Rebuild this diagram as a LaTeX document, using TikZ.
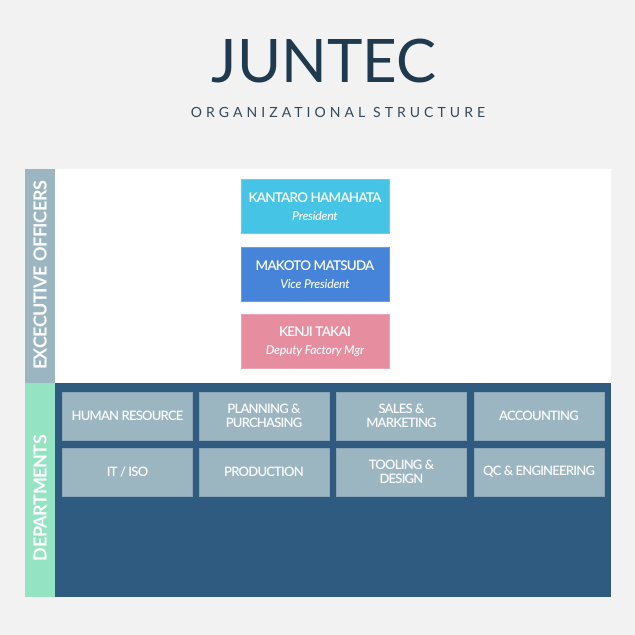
\documentclass[tikz,border=0pt]{standalone}
\usepackage{fontspec}
\setmainfont{Lato}
\newfontfamily\titlefont{Lato}
\newfontfamily\subfont{Lato}[LetterSpace=29]
\newfontfamily\boxfont{Lato Semibold}[LetterSpace=-6]
\newfontfamily\namefont{Lato Semibold}[LetterSpace=-5.5]
\newfontfamily\rolefont{Lato Medium Italic}[LetterSpace=-2]
\newfontfamily\stripfont{Lato}[LetterSpace=-2.5]
\definecolor{bggray}{HTML}{F2F2F2}
\definecolor{navy}{HTML}{1F3A4F}
\definecolor{subnavy}{HTML}{34495E}
\definecolor{steel}{HTML}{9BB5C1}
\definecolor{deptdark}{HTML}{305B80}
\definecolor{mint}{HTML}{94E3C3}
\definecolor{presblue}{HTML}{45C4E5}
\definecolor{vpblue}{HTML}{4584D8}
\definecolor{dfpink}{HTML}{E68EA0}
\tikzset{
  execbox/.style={rectangle, minimum width=148pt, minimum height=54pt, inner sep=0pt, align=center, text=white, font=\namefont\fontsize{13.4}{18}\selectfont},
  deptbox/.style={rectangle, fill=steel, draw=steel!85!deptdark, line width=0.6pt, minimum width=130pt, minimum height=48pt, inner sep=0pt, align=center, text=white!95!steel, font=\boxfont\fontsize{13}{14.5}\selectfont},
  striplabel/.style={rotate=90, text=white, font=\stripfont\bfseries\fontsize{18}{20}\selectfont, inner sep=0pt},
}
\newcommand{\roletext}[1]{{\rolefont\fontsize{12.2}{18}\selectfont #1}}
\begin{document}
\begin{tikzpicture}[x=1pt,y=-1pt]
\useasboundingbox (0,0) rectangle (635,635);
\fill[bggray] (0,0) rectangle (635,635);
% title
\node[anchor=base, text=navy, font=\titlefont\fontsize{60}{62}\selectfont, inner sep=0pt] (title) at (324,82) {JUNTEC};
\node[anchor=base, text=subnavy, font=\subfont\fontsize{14}{16}\selectfont, inner sep=0pt] (subtitle) at (338,117) {ORGANIZATIONAL STRUCTURE};
% panels
\fill[white] (55,169) rectangle (611,383);
\fill[steel] (25,169) rectangle (55,383);
\fill[deptdark] (55,383) rectangle (611,597);
\fill[mint] (25,383) rectangle (55,597);
\node[striplabel] (execlabel) at (40,275.5) {EXCECUTIVE OFFICERS};
\node[striplabel] (deptlabel) at (40,498) {DEPARTMENTS};
% executives
\node[execbox, fill=presblue, draw=presblue!80!white] (pres) at (315,206.5) {KANTARO HAMAHATA\\\roletext{President}};
\node[execbox, fill=vpblue, draw=vpblue!80!white] (vp) at (315,274.5) {MAKOTO MATSUDA\\\roletext{Vice President}};
\node[execbox, fill=dfpink, draw=dfpink!80!white] (dfm) at (315,341.5) {KENJI TAKAI\\\roletext{Deputy Factory Mgr}};
% departments
\node[deptbox] (hr) at (127.5,416) {HUMAN RESOURCE};
\node[deptbox] (pp) at (264,416) {PLANNING \&\\PURCHASING};
\node[deptbox] (sm) at (401.5,416) {SALES \&\\MARKETING};
\node[deptbox] (acc) at (539,416) {ACCOUNTING};
\node[deptbox] (it) at (127.5,472) {IT / ISO};
\node[deptbox] (prod) at (264,472) {PRODUCTION};
\node[deptbox] (td) at (401.5,472) {TOOLING \&\\DESIGN};
\node[deptbox] (qc) at (539,472) {QC \& ENGINEERING};
\end{tikzpicture}
\end{document}
